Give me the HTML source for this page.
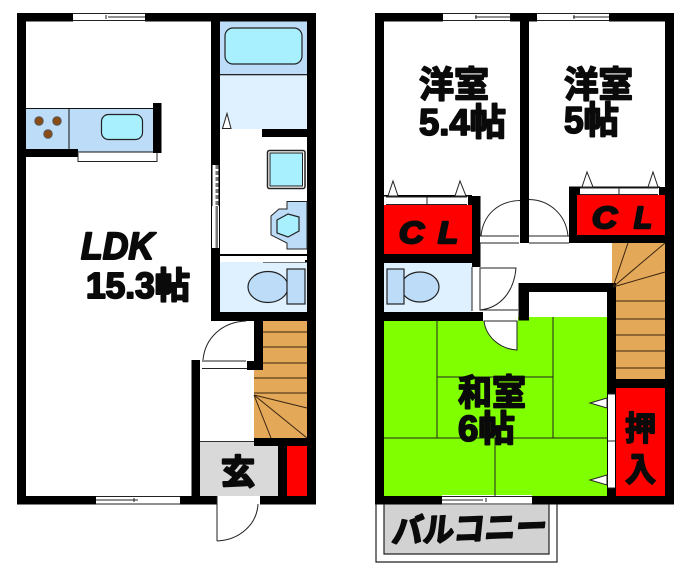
<!DOCTYPE html>
<html><head><meta charset="utf-8"><style>
html,body{margin:0;padding:0;background:#fff;width:700px;height:578px;overflow:hidden}
svg{display:block}
text{font-family:"Liberation Sans","Noto Sans CJK JP",sans-serif;font-weight:700;fill:#0a0a0a;stroke:#0a0a0a;stroke-linejoin:round}
</style></head><body>
<svg width="700" height="578" viewBox="0 0 700 578" xmlns="http://www.w3.org/2000/svg">
<rect width="700" height="578" fill="#fff"/>

<!-- LEFT UNIT fills -->
<rect x="220" y="21" width="87" height="53" fill="#bcdcf8"/>
<rect x="220" y="75" width="87" height="54" fill="#dff1fe"/>
<rect x="220" y="262" width="87" height="50" fill="#dff1fe"/>
<rect x="263" y="321" width="44" height="50" fill="#e3a858"/>
<rect x="254" y="369" width="53" height="70" fill="#e3a858"/>
<rect x="200" y="442" width="78" height="54" fill="#d9d9d9"/>
<rect x="287" y="446" width="20" height="50" fill="#ff0000"/>
<rect x="26" y="109" width="127" height="43" fill="#bcdcf8"/>

<!-- LEFT walls -->
<g fill="#000">
<rect x="17" y="13" width="299" height="8.500"/>
<rect x="17" y="13" width="9" height="491"/>
<rect x="307" y="13" width="9" height="491"/>
<rect x="17" y="496" width="299" height="8.500"/>
<rect x="211" y="13" width="9" height="308"/>
<rect x="262" y="129" width="45" height="8"/>
<rect x="211" y="312" width="105" height="9"/>
<rect x="254" y="321" width="9" height="49"/>
<rect x="247" y="361" width="16" height="9"/>
<rect x="191.500" y="360" width="8.500" height="140"/>
<rect x="254" y="438" width="62" height="8"/>
<rect x="278" y="442" width="9" height="56"/>
<rect x="153" y="103" width="8.500" height="50"/>
<rect x="26" y="149" width="52" height="8"/>
<rect x="263" y="260" width="44" height="2.500"/>
<rect x="220" y="254" width="87" height="2"/>
</g>
<rect x="200" y="441" width="54" height="1" fill="#333"/>
<path d="M26 108.500H153M69 109V149M78 152H153" stroke="#111" fill="none" stroke-width="1"/>

<!-- LEFT openings -->
<g fill="#fff">
<rect x="73" y="12" width="72" height="10"/>
<rect x="96" y="495" width="84" height="10"/>
<rect x="221" y="129" width="41" height="8"/>
<rect x="212" y="206" width="7" height="42"/>
<rect x="212.500" y="165" width="6" height="41"/>
<rect x="247" y="321" width="6" height="40"/>
<rect x="202" y="361" width="45" height="8"/>
<rect x="217" y="496" width="43" height="9"/>
<rect x="222" y="256" width="83" height="6"/>
<rect x="78" y="153" width="79" height="9"/>
</g>
<path d="M73 13.500H145M73 20.500H145M108 17H145M106 15V19" stroke="#222" fill="none" stroke-width="1"/>
<path d="M96 496.500H180M96 504H180M96 500H138M134 498V502" stroke="#222" fill="none" stroke-width="1"/>
<path d="M78 153V161.500H157V153" stroke="#222" fill="none" stroke-width="1"/>
<rect x="215.500" y="206" width="2.500" height="42" fill="#777"/>
<path d="M217 165V206" stroke="#777" stroke-width="3" stroke-dasharray="4 2" fill="none"/>
<path d="M263 258H305" stroke="#fff" stroke-width="2" stroke-dasharray="5 2" fill="none"/>
<path d="M222 255H263" stroke="#000" stroke-width="2" fill="none"/>
<path d="M202 361H246M202 368.500H247M217 496V541M217 541C240 540 257 524 258 504" stroke="#222" fill="none" stroke-width="1"/>
<path d="M203 360C205 338 222 322 246 321" stroke="#222" fill="none" stroke-width="1"/>
<path d="M222.500 128.500L227 113.500L231 128.500Z" fill="#fff" stroke="#222"/>

<!-- bath -->
<rect x="225" y="28" width="77" height="36" rx="8" fill="#a9f0ff" stroke="#222" stroke-width="1.200"/>
<rect x="220" y="74" width="87" height="1.300" fill="#222"/>
<!-- washer -->
<rect x="267.500" y="150.500" width="37.500" height="38" rx="2" fill="#fff" stroke="#222" stroke-width="1.500"/>
<rect x="270" y="153" width="32.500" height="33" fill="#a9f0ff" stroke="#222" stroke-width="1"/>
<!-- basin -->
<path d="M307 201.500H287V209H279L271 216V235L287 243V249H307Z" fill="#bcdcf8" stroke="#222" stroke-width="1"/>
<path d="M277 220L288 214L299 217V231L288 237L277 233Z" fill="#a9f0ff" stroke="#222" stroke-width="1.200"/>
<!-- toilet L -->
<ellipse cx="268" cy="287" rx="20" ry="15.500" fill="#bcdcf8" stroke="#222" stroke-width="1.200"/>
<rect x="287" y="269" width="18" height="35" fill="#bcdcf8" stroke="#222" stroke-width="1.200"/>
<!-- kitchen -->
<rect x="101.500" y="114.500" width="41" height="25" rx="7" fill="#a9f0ff" stroke="#222" stroke-width="1.200"/>
<g fill="#8a4b16" stroke="#555" stroke-width="1"><circle cx="39" cy="121" r="4.200"/><circle cx="57" cy="121" r="4.200"/><circle cx="48" cy="134" r="4.200"/></g>
<!-- stairs L -->
<path d="M263 332H307M263 347H307M263 363H307M254 378H307M254 393H307M254 395L307 408M254 395L307 438M254 395L271 438" stroke="#3a2410" stroke-width="1" fill="none"/>

<!-- RIGHT fills -->
<rect x="384" y="205" width="88" height="49" fill="#ff0000"/>
<rect x="577" y="195" width="88" height="40" fill="#ff0000"/>
<rect x="384" y="263" width="88" height="49" fill="#dff1fe"/>
<rect x="384" y="321" width="134" height="175" fill="#80ff00"/>
<rect x="518" y="317" width="89" height="179" fill="#80ff00"/>
<rect x="612" y="243" width="53" height="40" fill="#e3a858"/>
<rect x="616" y="283" width="49" height="96" fill="#e3a858"/>
<rect x="616" y="388" width="49" height="108" fill="#ff0000"/>
<rect x="384" y="504" width="165" height="50" fill="#d2d2d2"/>

<!-- RIGHT walls -->
<g fill="#000">
<rect x="375" y="13" width="299" height="8.500"/>
<rect x="375" y="13" width="9" height="491"/>
<rect x="665" y="13" width="9" height="491"/>
<rect x="375" y="496" width="299" height="8.500"/>
<rect x="520" y="13" width="9" height="230"/>
<rect x="472" y="196" width="8.500" height="71"/>
<rect x="468" y="196" width="12.500" height="9"/>
<rect x="375" y="254" width="105" height="9"/>
<rect x="569" y="187" width="8" height="56"/>
<rect x="569" y="187" width="11" height="8"/>
<rect x="569" y="235" width="105" height="8"/>
<rect x="569" y="186.500" width="91" height="1.500"/>
<rect x="659" y="187" width="6" height="8"/>
<rect x="384" y="195" width="88" height="1.500"/>
<rect x="375" y="312" width="108" height="9"/>
<rect x="520" y="283" width="96" height="9"/>
<rect x="518.500" y="283" width="10.500" height="37.500"/>
<rect x="607" y="283" width="9" height="213"/>
<rect x="607" y="379" width="67" height="9"/>
</g>
<rect x="529" y="292" width="78" height="25" fill="#fff"/>

<!-- RIGHT openings -->
<g fill="#fff">
<rect x="443" y="12" width="67" height="10"/>
<rect x="537" y="12" width="72" height="10"/>
<rect x="442" y="495" width="90" height="10"/>
<rect x="386" y="197" width="81" height="8"/>
<rect x="580" y="188" width="78" height="7"/>
<rect x="480" y="236" width="39" height="7"/>
<rect x="529" y="236" width="40" height="7"/>
<rect x="472" y="267" width="7" height="44"/>
<rect x="483" y="312" width="35" height="9"/>
<rect x="608" y="394" width="7" height="94"/>
</g>
<path d="M443 13.500H510M443 20.500H510M475 17H510M476 15V19M537 13.500H609M537 20.500H609M573 17H609M574 15V19M442 496.500H532M442 504H532M442 500H483M486 498V502" stroke="#222" fill="none" stroke-width="1"/>
<path d="M386 197H467M386 204.500H467M427 197V204.500M580 188H658M580 194.500H658M619 188V194.500M608 394H615M608 441H615M608 488H615M480 236H519M480 243H519M529 236H569M529 243H569" stroke="#222" fill="none" stroke-width="1"/>
<path d="M481 236C483 215 498 201 520 200.500M529 199.500C550 200 566 215 568 236" stroke="#222" fill="none" stroke-width="1"/>
<path d="M388 196L393 181L398 196ZM455 196L460 181L466 196ZM582 187L587 172L593 187ZM648 187L653 172L658 187ZM607 398L590 403L607 408ZM607 475L590 480L607 485Z" fill="#fff" stroke="#222" stroke-width="1"/>
<!-- hall door by toilet -->
<path d="M480 268H516C514 292 500 308 480 310Z" fill="#fff" stroke="#222" stroke-width="1"/>
<path d="M472 267V311M480 310H518" stroke="#222" stroke-width="1" fill="none"/>
<!-- tatami lines -->
<path d="M437 321V438M553 317V438M437 377H553M384 438H607M495 438V496" stroke="#222" stroke-width="1" fill="none"/>
<path d="M484 321C486 337 500 349 517 350V321Z" fill="#fff" stroke="#222" stroke-width="1"/>
<!-- toilet R -->
<ellipse cx="420" cy="287" rx="19" ry="15" fill="#bcdcf8" stroke="#222" stroke-width="1.200"/>
<rect x="387" y="269" width="17" height="35" fill="#bcdcf8" stroke="#222" stroke-width="1.200"/>
<!-- stairs R -->
<path d="M613 287L628 243M613 287L665 243M613 287L665 272M616 301H665M616 319H665M616 335H665M616 351H665M616 368H665" stroke="#3a2410" stroke-width="1" fill="none"/>
<!-- balcony -->
<path d="M376 504V562H557V504M384 504V554H549V504" stroke="#222" stroke-width="1.200" fill="none"/>

<!-- TEXT -->
<text x="81" y="259" font-size="38" font-style="italic" textLength="73" lengthAdjust="spacingAndGlyphs" stroke-width="2">LDK</text>
<text x="86" y="298" font-size="36" textLength="104" lengthAdjust="spacingAndGlyphs" stroke-width="2">15.3帖</text>
<text x="221" y="484" font-size="34" textLength="34" lengthAdjust="spacingAndGlyphs" stroke-width="2.200">玄</text>
<text x="419" y="97" font-size="36" textLength="70" lengthAdjust="spacingAndGlyphs" stroke-width="1.800">洋室</text>
<text x="419" y="135" font-size="37" textLength="87" lengthAdjust="spacingAndGlyphs" stroke-width="1.800">5.4帖</text>
<text x="564" y="97" font-size="36" textLength="69" lengthAdjust="spacingAndGlyphs" stroke-width="1.800">洋室</text>
<text x="564" y="133" font-size="37" textLength="55" lengthAdjust="spacingAndGlyphs" stroke-width="1.800">5帖</text>
<text x="399" y="243" font-size="31" font-style="italic" textLength="25" lengthAdjust="spacingAndGlyphs" stroke-width="2.400">C</text>
<text x="438" y="243" font-size="31" font-style="italic" textLength="20" lengthAdjust="spacingAndGlyphs" stroke-width="2.400">L</text>
<text x="592" y="228" font-size="31" font-style="italic" textLength="25" lengthAdjust="spacingAndGlyphs" stroke-width="2.400">C</text>
<text x="634" y="228" font-size="31" font-style="italic" textLength="18" lengthAdjust="spacingAndGlyphs" stroke-width="2.400">L</text>
<text x="458" y="405" font-size="36" textLength="68" lengthAdjust="spacingAndGlyphs" stroke-width="1.800">和室</text>
<text x="458" y="441" font-size="36" textLength="57" lengthAdjust="spacingAndGlyphs" stroke-width="1.800">6帖</text>
<text x="625" y="440" font-size="33" textLength="31" lengthAdjust="spacingAndGlyphs" stroke-width="1.800">押</text>
<text x="625" y="481" font-size="33" textLength="31" lengthAdjust="spacingAndGlyphs" stroke-width="1.800">入</text>
<text x="0" y="0" font-size="33" textLength="155" lengthAdjust="spacingAndGlyphs" stroke-width="1.800" transform="translate(391 543) rotate(-2) skewX(-8)">バルコニー</text>
</svg>
</body></html>
